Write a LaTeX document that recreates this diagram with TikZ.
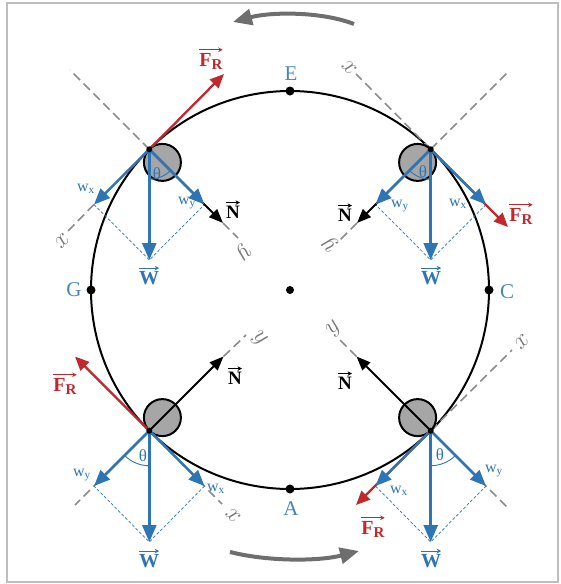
\documentclass[tikz,border=0pt]{standalone}
\usepackage{fontspec}
\setmainfont{Liberation Serif}
\usetikzlibrary{arrows.meta}
\definecolor{wblue}{HTML}{2E75B6}
\definecolor{lblue}{HTML}{4A86B5}
\definecolor{fred}{HTML}{C0282D}
\definecolor{axgray}{HTML}{8C8C8C}
\definecolor{axlgray}{HTML}{7A7A7A}
\definecolor{rotgray}{HTML}{6E6E6E}
\definecolor{ballgray}{HTML}{A6A6A6}
\definecolor{framegray}{HTML}{BEBEBE}
\newcommand{\vecover}[2]{\draw[#2,line width=0.9pt,-{Stealth[length=4.5pt,width=4.5pt]}] ([yshift=3pt]#1.north west) -- ([yshift=3pt]#1.north east);}
\newcommand{\frlab}{F\fontsize{15}{15}\selectfont\raisebox{-3pt}{R}}
\begin{document}
\begin{tikzpicture}[x=1pt,y=-1pt,
  axis/.style={axgray,line width=1.6pt,dash pattern=on 9pt off 5pt},
  wvec/.style={wblue,line width=2.8pt,-{Triangle[length=17pt,width=14pt]}},
  wcomp/.style={wblue,line width=2.5pt,-{Triangle[length=16pt,width=13pt]}},
  fvec/.style={fred,line width=2.3pt,-{Triangle[length=14pt,width=12pt]}},
  nvec/.style={black,line width=2pt,-{Triangle[length=14pt,width=11pt]}},
  guide/.style={wblue,line width=0.7pt,dash pattern=on 3pt off 2pt},
  thetaarc/.style={wblue,line width=0.9pt},
  ball/.style={circle,draw=black,line width=2pt,fill=ballgray,minimum size=37pt,inner sep=0pt},
  dot/.style={circle,fill=black,minimum size=9pt,inner sep=0pt},
  cdot/.style={circle,fill=black,minimum size=4.5pt,inner sep=0pt},
  ptlabel/.style={text=lblue,font=\fontsize{21}{21}\selectfont,inner sep=0pt},
  wlab/.style={text=wblue,font=\fontsize{20}{20}\selectfont\bfseries,inner sep=0pt},
  flab/.style={text=fred,font=\fontsize{20}{20}\selectfont\bfseries,inner sep=0pt},
  nlab/.style={text=black,font=\fontsize{19}{19}\selectfont\bfseries,inner sep=0pt},
  clab/.style={text=wblue,font=\fontsize{16}{16}\selectfont,inner sep=0pt},
  thlab/.style={text=wblue,font=\fontsize{17}{17}\selectfont,inner sep=0pt},
  axlab/.style={text=axlgray,font=\fontsize{23}{23}\selectfont,inner sep=0pt},
  rot/.style={rotgray,line width=4pt,-{Triangle[length=19pt,width=16pt]}}
]
\useasboundingbox (0,0) rectangle (561,584);
\draw[framegray,line width=1.2pt] (7,3) rectangle (558,582);

% motion arrows
\coordinate (ta) at (354,24);
\coordinate (tb) at (233,22);
\draw[rot] (ta) .. controls (320,11) and (270,12) .. (tb);
\coordinate (ba) at (230,552);
\coordinate (bb) at (359,551);
\draw[rot] (ba) .. controls (270,562) and (320,561) .. (bb);

% track
\node[circle,draw=black,line width=2pt,minimum size=398pt,inner sep=0pt] (track) at (290,290) {};
\node[cdot,minimum size=8pt] (O) at (290,290) {};
\node[dot] (E) at (290,91) {};
\node[dot] (G) at (91,290) {};
\node[dot] (C) at (489,290) {};
\node[dot] (A) at (290,489) {};
\node[ptlabel] (Elab) at (291,74) {E};
\node[ptlabel] (Glab) at (74,290) {G};
\node[ptlabel] (Clab) at (507,292) {C};
\node[ptlabel] (Alab) at (291,509) {A};

% ================= top-left
\coordinate (P1) at (149.3,149.3);
\coordinate (P1ax) at (70,70);
\coordinate (P1ye) at (238,238);
\coordinate (P1xe) at (67,232);
\coordinate (P1F) at (224,74);
\coordinate (P1N) at (223,223);
\coordinate (P1wy) at (204.5,204.5);
\coordinate (P1wx) at (94,204.5);
\coordinate (P1W) at (149.3,260);
\draw[axis] (P1) -- (P1ax);
\draw[axis] (P1N) -- (P1ye);
\draw[axis] (P1wx) -- (P1xe);
\node[ball] (B1) at (162.4,162.4) {};
\draw[guide] (P1wx) -- (P1W) -- (P1wy);
\draw[fvec] (P1) -- (P1F);
\draw[nvec] (P1) -- (P1N);
\draw[wvec] (P1) -- (P1W);
\draw[wcomp] (P1) -- (P1wy);
\draw[wcomp] (P1) -- (P1wx);
\draw[thetaarc] (P1) ++(90:30) arc[start angle=90,end angle=45,radius=30];
\node[cdot,minimum size=6pt] (P1d) at (P1) {};
\node[axlab,rotate=-135] (x1) at (62,241) {$x$};
\node[axlab,rotate=-135] (y1) at (243,252) {$y$};
\node[flab] (F1) at (211,61) {\frlab}; \vecover{F1}{fred}
\node[nlab] (N1) at (233,212) {N}; \vecover{N1}{black}
\node[wlab] (W1) at (149,278) {W}; \vecover{W1}{wblue}
\node[clab] (wx1) at (86,189) {w\textsubscript{x}};
\node[clab] (wy1) at (187,203) {w\textsubscript{y}};
\node[thlab] (th1) at (157,174) {θ};

% ================= top-right
\coordinate (P2) at (430.7,149.3);
\coordinate (P2ax) at (508,72);
\coordinate (P2xe) at (356,74);
\coordinate (P2ye) at (338,242);
\coordinate (P2F) at (508,227);
\coordinate (P2N) at (357,223);
\coordinate (P2wy) at (375.5,204.5);
\coordinate (P2wx) at (486,204.5);
\coordinate (P2W) at (430.7,260);
\draw[axis] (P2) -- (P2ax);
\draw[axis] (P2) -- (P2xe);
\draw[axis] (P2N) -- (P2ye);
\node[ball] (B2) at (417.6,162.4) {};
\draw[guide] (P2wx) -- (P2W) -- (P2wy);
\draw[fvec] (P2) -- (P2F);
\draw[nvec] (P2) -- (P2N);
\draw[wvec] (P2) -- (P2W);
\draw[wcomp] (P2) -- (P2wy);
\draw[wcomp] (P2) -- (P2wx);
\draw[thetaarc] (P2) ++(90:30) arc[start angle=90,end angle=135,radius=30];
\node[cdot,minimum size=6pt] (P2d) at (P2) {};
\node[axlab,rotate=135] (x2) at (349,67) {$x$};
\node[axlab,rotate=135] (y2) at (330,244) {$y$};
\node[flab] (F2) at (521,216) {\frlab}; \vecover{F2}{fred}
\node[nlab] (N2) at (345,215) {N}; \vecover{N2}{black}
\node[wlab] (W2) at (431,278) {W}; \vecover{W2}{wblue}
\node[clab] (wx2) at (458,204) {w\textsubscript{x}};
\node[clab] (wy2) at (400,206) {w\textsubscript{y}};
\node[thlab] (th2) at (423,172) {θ};

% ================= bottom-left
\coordinate (P3) at (149.3,430.7);
\coordinate (P3ax) at (75,505);
\coordinate (P3ye) at (246,335);
\coordinate (P3xe) at (222,504);
\coordinate (P3F) at (75,356.5);
\coordinate (P3N) at (223.5,356.5);
\coordinate (P3wy) at (94,486);
\coordinate (P3wx) at (204.5,486);
\coordinate (P3W) at (149.3,542);
\draw[axis] (P3) -- (P3ax);
\draw[axis] (P3N) -- (P3ye);
\draw[axis] (P3) -- (P3xe);
\node[ball] (B3) at (162.4,417.6) {};
\draw[guide] (P3wx) -- (P3W) -- (P3wy);
\draw[fvec] (P3) -- (P3F);
\draw[nvec] (P3) -- (P3N);
\draw[wvec] (P3) -- (P3W);
\draw[wcomp] (P3) -- (P3wy);
\draw[wcomp] (P3) -- (P3wx);
\draw[thetaarc] (P3) ++(90:35) arc[start angle=90,end angle=135,radius=35];
\node[cdot,minimum size=6pt] (P3d) at (P3) {};
\node[axlab,rotate=-45] (x3) at (233,516) {$x$};
\node[axlab,rotate=-45] (y3) at (259,339) {$y$};
\node[flab] (F3) at (65,386) {\frlab}; \vecover{F3}{fred}
\node[nlab] (N3) at (235,378) {N}; \vecover{N3}{black}
\node[wlab] (W3) at (149,561) {W}; \vecover{W3}{wblue}
\node[clab] (wx3) at (216,489) {w\textsubscript{x}};
\node[clab] (wy3) at (82,475) {w\textsubscript{y}};
\node[thlab] (th3) at (143,456) {θ};

% ================= bottom-right
\coordinate (P4) at (430.7,430.7);
\coordinate (P4ax) at (507,507);
\coordinate (P4ye) at (340,340);
\coordinate (P4xe) at (512,350);
\coordinate (P4F) at (356,505);
\coordinate (P4N) at (356.5,356.5);
\coordinate (P4wy) at (486,486);
\coordinate (P4wx) at (375.5,486);
\coordinate (P4W) at (430.7,542);
\draw[axis] (P4) -- (P4ax);
\draw[axis] (P4N) -- (P4ye);
\draw[axis] (P4) -- (P4xe);
\node[ball] (B4) at (417.6,417.6) {};
\draw[guide] (P4wx) -- (P4W) -- (P4wy);
\draw[fvec] (P4) -- (P4F);
\draw[nvec] (P4) -- (P4N);
\draw[wvec] (P4) -- (P4W);
\draw[wcomp] (P4) -- (P4wy);
\draw[wcomp] (P4) -- (P4wx);
\draw[thetaarc] (P4) ++(90:35) arc[start angle=90,end angle=45,radius=35];
\node[cdot,minimum size=6pt] (P4d) at (P4) {};
\node[axlab,rotate=45] (x4) at (522,342) {$x$};
\node[axlab,rotate=45] (y4) at (334,329) {$y$};
\node[flab] (F4) at (373,529) {\frlab}; \vecover{F4}{fred}
\node[nlab] (N4) at (345,383) {N}; \vecover{N4}{black}
\node[wlab] (W4) at (431,561) {W}; \vecover{W4}{wblue}
\node[clab] (wx4) at (399,491) {w\textsubscript{x}};
\node[clab] (wy4) at (494,471) {w\textsubscript{y}};
\node[thlab] (th4) at (440,455) {θ};
\end{tikzpicture}
\end{document}
